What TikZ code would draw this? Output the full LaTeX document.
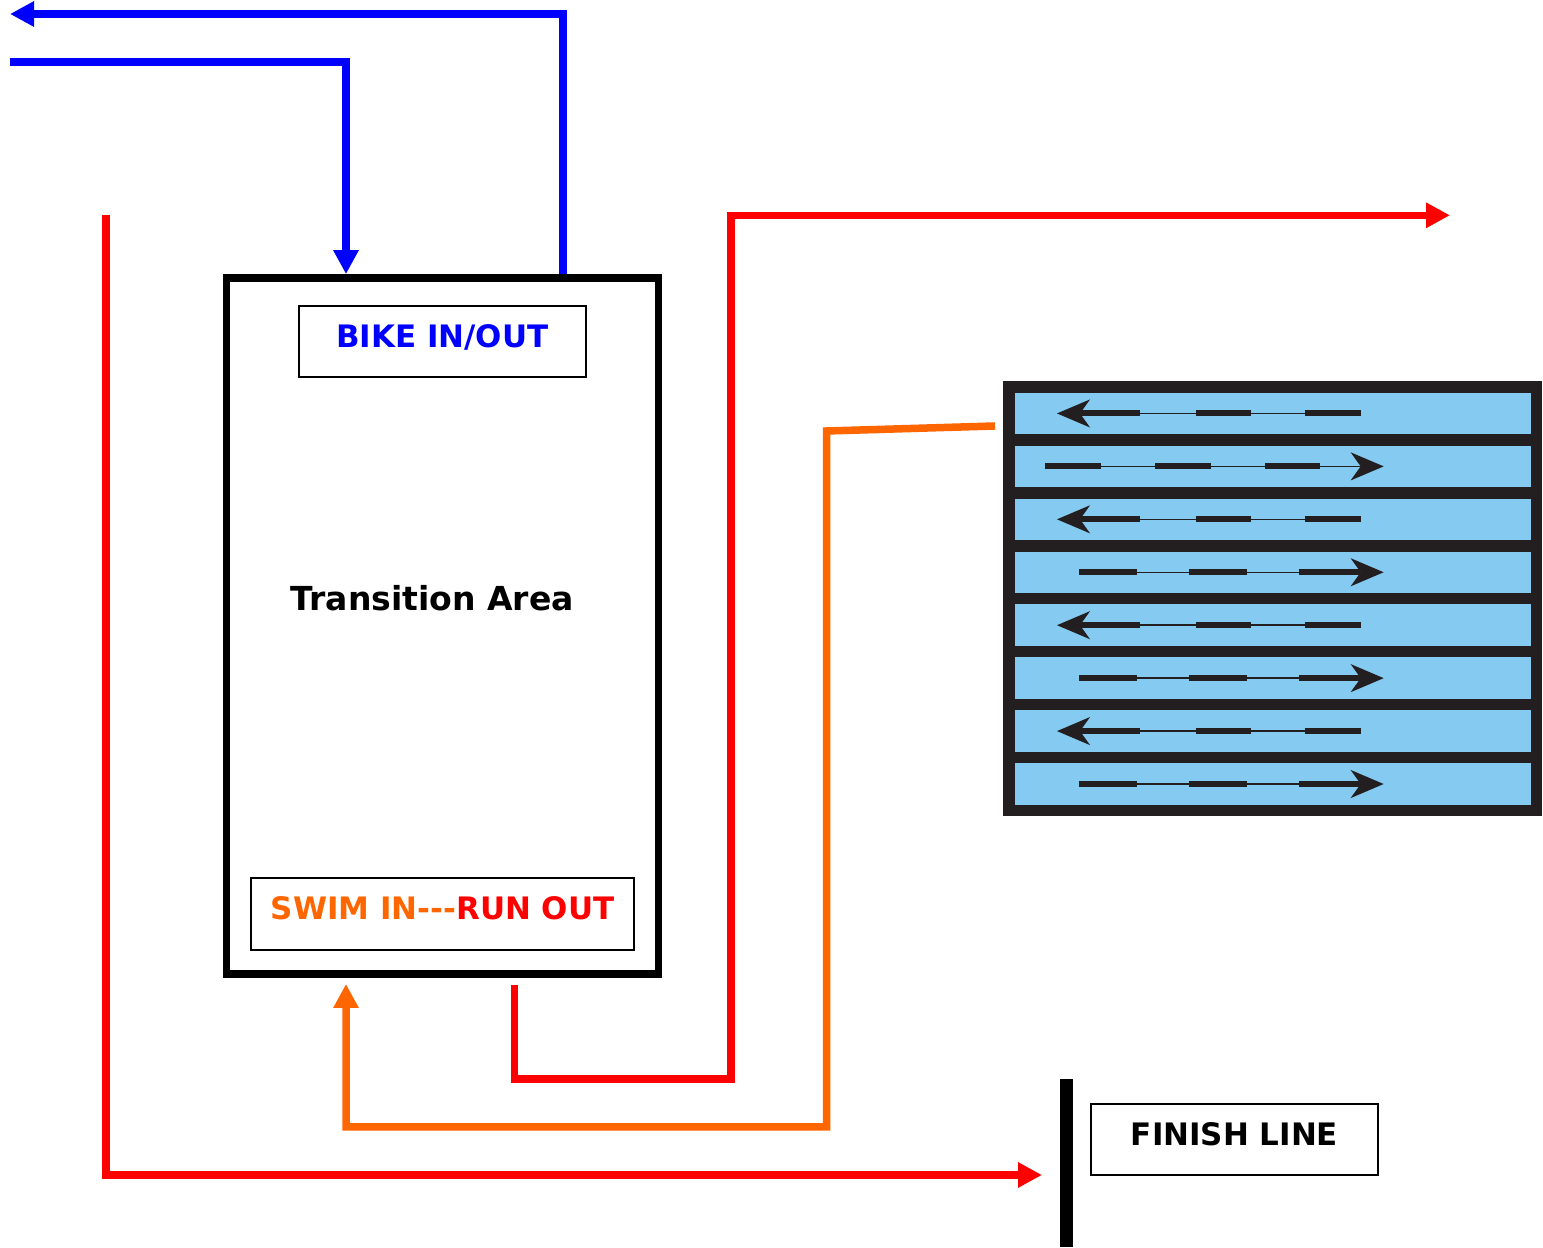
\documentclass[tikz,border=0pt]{standalone}
\usepackage{fontspec}
\setmainfont{DejaVu Sans}[Ligatures=TeXOff]
\usetikzlibrary{arrows.meta}
\usetikzlibrary{positioning}
\definecolor{bikeblue}{RGB}{0,0,255}
\definecolor{runred}{RGB}{255,0,0}
\definecolor{swimorange}{RGB}{255,102,0}
\definecolor{lanewater}{RGB}{133,202,240}
\definecolor{poolblack}{RGB}{35,31,32}

\begin{document}
\begin{tikzpicture}[
    route/.style={line width=0.075cm},
    tip/.style={-{Triangle[length=0.24cm, width=0.24cm]}},
    signbox/.style={draw, line width=0.02cm, minimum width=2.87cm, minimum height=0.715cm, inner sep=0,
        text height=0.225cm, text depth=0.11cm, font=\fontsize{8.8pt}{10pt}\selectfont\bfseries},
    lanearrow/.style={line width=0.015cm, poolblack, -{Stealth[length=0.33cm, width=0.28cm, inset=0.1cm]}},
    lanedash/.style={line width=0.06cm, poolblack},
]
    \useasboundingbox (0,0) rectangle (15.43,-12.48);

    % transition area
    \node [draw, line width=0.075cm, minimum width=4.32cm, minimum height=6.96cm] (ta) at (4.426,-6.259) {};
    \node [anchor=base, font=\fontsize{9.4pt}{11pt}\selectfont\bfseries] (talabel) at (4.322,-6.107) {Transition Area};
    \node [signbox, text=bikeblue] (bike) at (4.423,-3.417) {BIKE IN/OUT};
    \node [signbox, minimum width=3.826cm] (swim) at (4.427,-9.139) {\textcolor{swimorange}{SWIM IN---}\textcolor{runred}{RUN OUT}};

    % pool with lanes
    \node [fill=poolblack, inner sep=0, minimum width=5.39cm, minimum height=4.35cm] (pool) at (12.725,-5.985) {};
    \foreach \i in {0,...,7}
        \fill [lanewater] (10.145,{-3.927-0.5294*\i}) rectangle (15.308,{-4.342-0.5294*\i});
    \foreach \i in {0,2,4,6} {
        \pgfmathsetmacro\y{-4.1345-0.5294*\i}
        \draw [lanearrow] (13.608,\y) -- (10.57,\y);
        \draw [lanedash] (10.80,\y) -- (11.40,\y) (11.956,\y) -- (12.51,\y) (13.047,\y) -- (13.608,\y);
    }
    \draw [lanearrow] (10.45,-4.6639) -- (13.837,-4.6639);
    \draw [lanedash] (10.45,-4.6639) -- (11.01,-4.6639) (11.55,-4.6639) -- (12.105,-4.6639) (12.65,-4.6639) -- (13.20,-4.6639);
    \foreach \i in {3,5,7} {
        \pgfmathsetmacro\y{-4.1345-0.5294*\i}
        \draw [lanearrow] (10.79,\y) -- (13.837,\y);
        \draw [lanedash] (10.79,\y) -- (11.368,\y) (11.894,\y) -- (12.465,\y) (12.988,\y) -- (13.60,\y);
    }

    % finish
    \node [fill=black, inner sep=0, minimum width=0.13cm, minimum height=1.68cm] (fbar) at (10.665,-11.63) {};
    \node [signbox] (finish) at (12.345,-11.395) {FINISH LINE};

    % bike course
    \coordinate (bikein) at (0.10,-0.62);
    \coordinate (bikeinturn) at (3.46,-0.62);
    \draw [route, bikeblue, tip] (bikein) -- (bikeinturn) -- (bikeinturn |- ta.north);
    \coordinate (bikeoutturn) at (5.63,-0.14);
    \coordinate (bikeout) at (0.10,-0.14);
    \draw [route, bikeblue, tip] (bikeoutturn |- ta.north) -- (bikeoutturn) -- (bikeout);

    % run course
    \coordinate (runstart) at (1.06,-2.15);
    \coordinate (finishin) at (10.42,-11.75);
    \draw [route, runred, tip] (runstart) |- (finishin);
    \coordinate (runout) at (5.145,-9.85);
    \coordinate (runturn) at (7.31,-10.79);
    \coordinate (runend) at (14.50,-2.153);
    \draw [route, runred, tip] (runout) |- (runturn) |- (runend);

    % swim exit
    \coordinate (swimexit) at (9.95,-4.26);
    \coordinate (swimturn) at (8.265,-4.31);
    \coordinate (swimbottom) at (8.265,-11.27);
    \coordinate (swimin) at (3.46,-9.84);
    \draw [route, swimorange, tip] (swimexit) -- (swimturn) -- (swimbottom) -| (swimin);
\end{tikzpicture}
\end{document}
